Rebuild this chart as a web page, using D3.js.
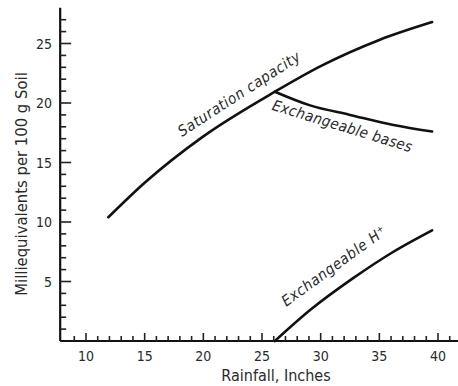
<!DOCTYPE html>
<html>
<head>
<meta charset="utf-8">
<script src="https://cdn.jsdelivr.net/npm/d3@7"></script>
<style>
  body { margin: 0; background: #fff; }
  text { font-family: "DejaVu Sans Condensed", "DejaVu Sans", sans-serif; fill: #2a2a2a; }
</style>
</head>
<body>
<div id="chart"></div>
<script>
var width = 458;
var height = 386;

// rainfall (inches) -> milliequivalents per 100 g soil
var satX = [11.9, 15, 20, 26.1, 30, 35, 39.5];
var satY = [10.4, 13.3, 17.2, 20.95, 23.1, 25.3, 26.8];

var baseX = [26.1, 29.1, 32.5, 36.2, 39.5];
var baseY = [20.95, 19.8, 19.0, 18.15, 17.6];

var hX = [26.1, 29.1, 32.8, 36.2, 39.5];
var hY = [0, 2.6, 5.3, 7.5, 9.3];

var xTicks = [10, 15, 20, 25, 30, 35, 40];
var yTicks = [5, 10, 15, 20, 25];

var xscale = d3.scaleLinear().domain([10, 40]).range([86, 438]);
var yscale = d3.scaleLinear().domain([0, 25]).range([341, 43.5]);

var svg = d3.select("#chart")
  .append("svg")
  .attr("width", width)
  .attr("height", height);

// axes lines
var x0 = xscale(7.8);
var y0 = yscale(0);
svg.append("line")
  .attr("x1", x0).attr("x2", x0)
  .attr("y1", y0).attr("y2", yscale(28))
  .attr("stroke", "#111").attr("stroke-width", 2.2);
svg.append("line")
  .attr("x1", x0).attr("x2", width)
  .attr("y1", y0).attr("y2", y0)
  .attr("stroke", "#111").attr("stroke-width", 2.2);

// minor + major ticks, pointing inward
d3.range(1, 28).forEach(function (v) {
  var major = v % 5 == 0;
  svg.append("line")
    .attr("x1", x0).attr("x2", x0 + (major ? 11 : 6))
    .attr("y1", yscale(v)).attr("y2", yscale(v))
    .attr("stroke", "#222").attr("stroke-width", 1.6);
});
d3.range(9, 42).forEach(function (v) {
  var major = v % 5 == 0;
  svg.append("line")
    .attr("x1", xscale(v)).attr("x2", xscale(v))
    .attr("y1", y0).attr("y2", y0 - (major ? 8 : 5))
    .attr("stroke", "#222").attr("stroke-width", 1.6);
});

// tick labels
svg.selectAll(".xlab")
  .data(xTicks)
  .enter()
  .append("text")
  .attr("class", "xlab")
  .attr("x", function (d) { return xscale(d); })
  .attr("y", 361)
  .attr("text-anchor", "middle")
  .style("font-size", "14px")
  .text(function (d) { return d; });

svg.selectAll(".ylab")
  .data(yTicks)
  .enter()
  .append("text")
  .attr("class", "ylab")
  .attr("x", 52)
  .attr("y", function (d) { return yscale(d) + 5; })
  .attr("text-anchor", "end")
  .style("font-size", "14px")
  .text(function (d) { return d; });

// axis titles
svg.append("text")
  .attr("x", 276)
  .attr("y", 381)
  .attr("text-anchor", "middle")
  .style("font-size", "16px")
  .text("Rainfall, Inches");

svg.append("text")
  .attr("transform", "translate(27,184) rotate(-90)")
  .attr("text-anchor", "middle")
  .style("font-size", "16.5px")
  .text("Milliequivalents per 100 g Soil");

// curves
var line = d3.line()
  .x(function (d) { return xscale(d[0]); })
  .y(function (d) { return yscale(d[1]); })
  .curve(d3.curveMonotoneX);

var series = [d3.zip(satX, satY), d3.zip(baseX, baseY), d3.zip(hX, hY)];
for (var i = 0; i < series.length; i++) {
  svg.append("path")
    .datum(series[i])
    .attr("fill", "none")
    .attr("stroke", "#111")
    .attr("stroke-width", 2.6)
    .attr("stroke-linecap", "round")
    .attr("d", line);
}

// curve labels
svg.append("text")
  .attr("transform", "translate(242,98) rotate(-33)")
  .attr("text-anchor", "middle")
  .style("font-size", "15px")
  .style("letter-spacing", "0.6px")
  .style("font-style", "italic")
  .text("Saturation capacity");

svg.append("text")
  .attr("transform", "translate(341,131) rotate(17)")
  .attr("text-anchor", "middle")
  .style("font-size", "15px")
  .style("letter-spacing", "0.4px")
  .style("font-style", "italic")
  .text("Exchangeable bases");

svg.append("text")
  .attr("transform", "translate(337,270) rotate(-36)")
  .attr("text-anchor", "middle")
  .style("font-size", "15px")
  .style("letter-spacing", "0.6px")
  .style("font-style", "italic")
  .text("Exchangeable  H\u207A");
</script>
</body>
</html>
